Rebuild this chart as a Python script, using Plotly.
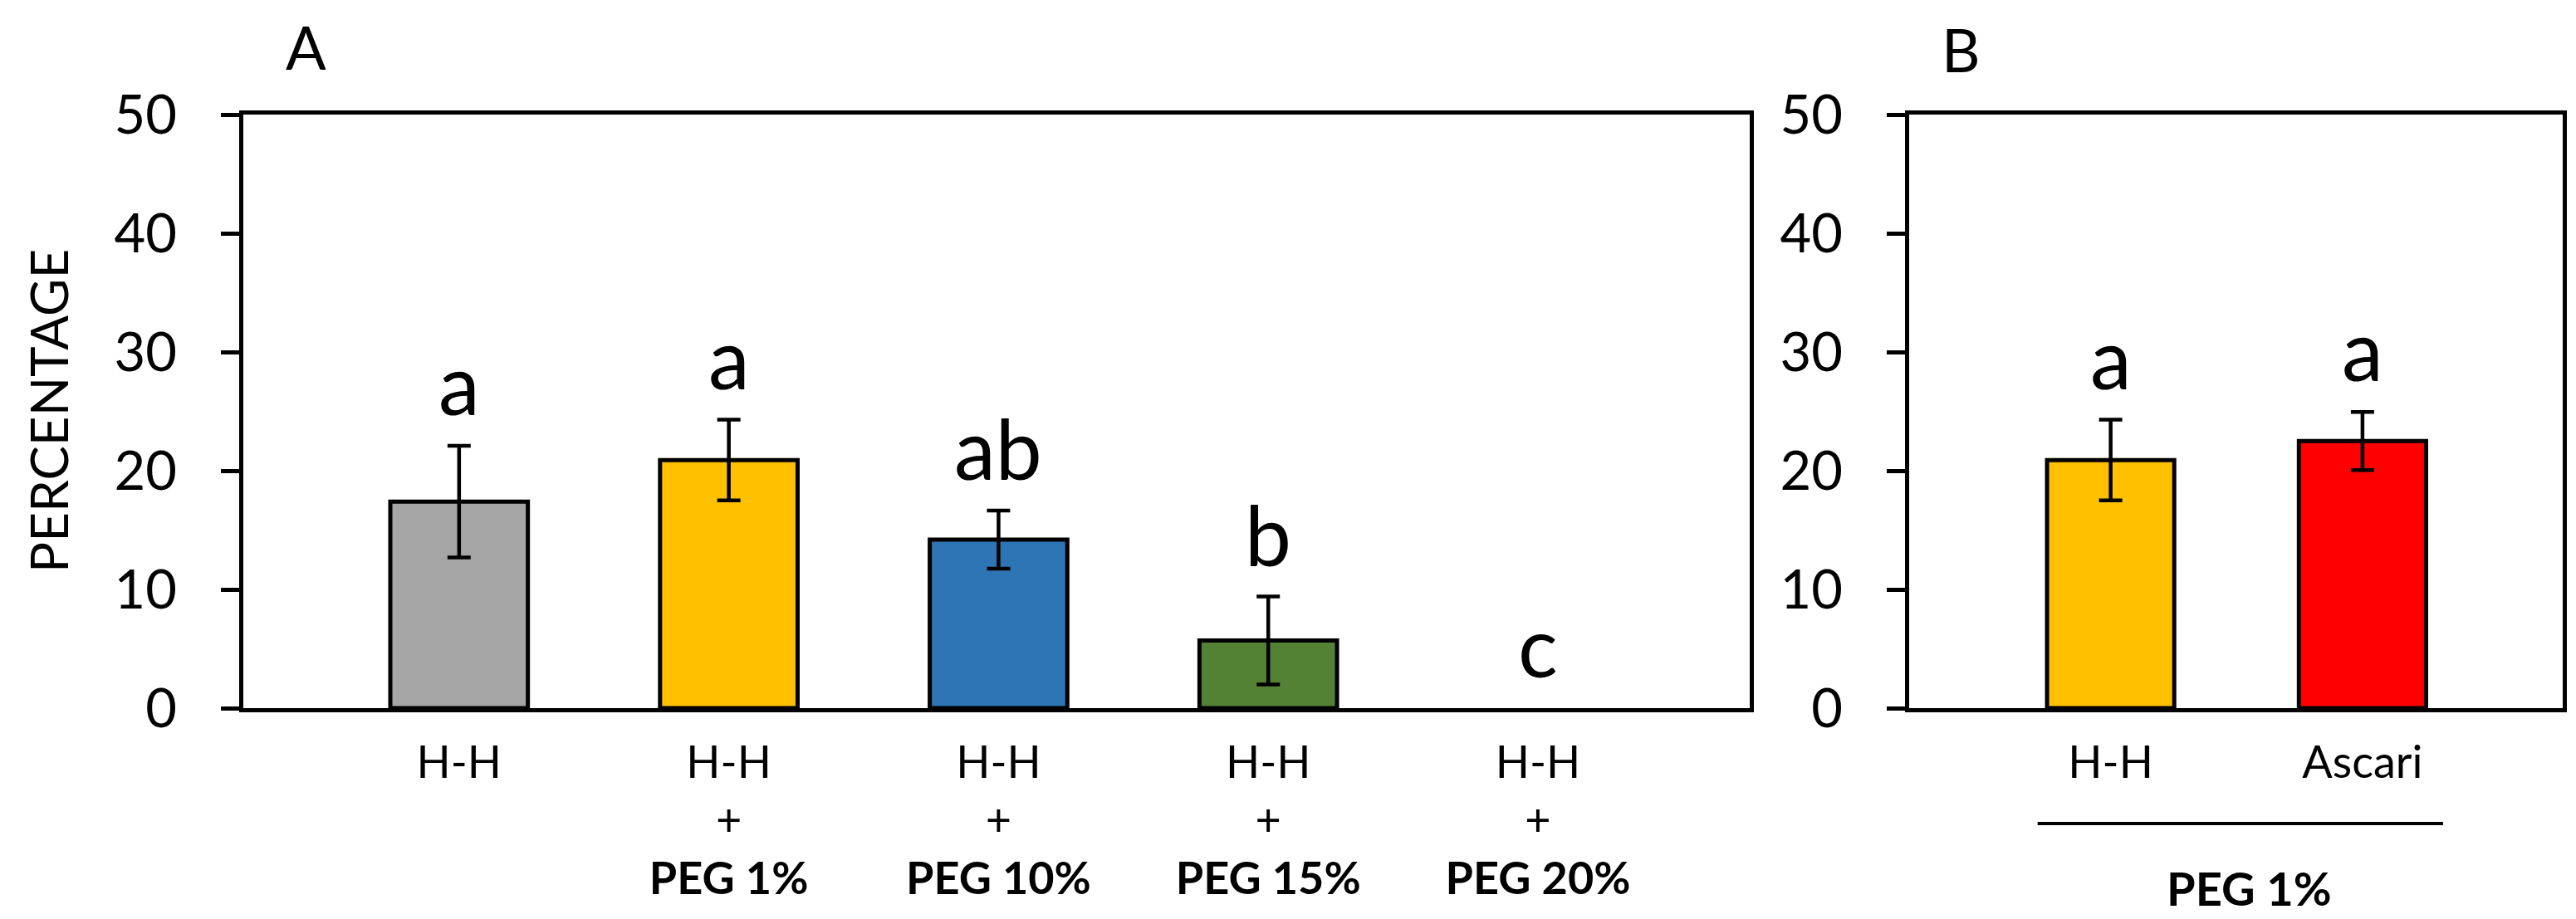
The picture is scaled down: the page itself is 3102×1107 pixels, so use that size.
import plotly.graph_objects as go

# ---- data ----
cats_a = ["H-H", "H-H + PEG 1%", "H-H + PEG 10%", "H-H + PEG 15%", "H-H + PEG 20%"]
ticks_a = ["H-H", "H-H<br>+<br><b>PEG 1%</b>", "H-H<br>+<br><b>PEG 10%</b>",
           "H-H<br>+<br><b>PEG 15%</b>", "H-H<br>+<br><b>PEG 20%</b>"]
mean_a = [17.4, 20.9, 14.2, 5.7, 0.0]
err_a = [4.7, 3.4, 2.45, 3.7, 0.0]
letters_a = ["a", "a", "ab", "b", "c"]
colors_a = ["#A5A5A5", "#FFC000", "#2E75B6", "#548235", "#FFFFFF"]

cats_b = ["H-H", "Ascari"]
mean_b = [20.9, 22.5]
err_b = [3.4, 2.45]
letters_b = ["a", "a"]
colors_b = ["#FFC000", "#FF0000"]

y_ticks = [0, 10, 20, 30, 40, 50]

FONT = "Lato"
W, H = 3102, 1107

fig = go.Figure()

# a zero-height bar is not drawn at all (as in the reference)
plot_mean_a = [m if m > 0 else None for m in mean_a]
plot_err_a = [e if m > 0 else None for m, e in zip(mean_a, err_a)]

fig.add_trace(go.Bar(
    x=cats_a, y=plot_mean_a, width=0.51, xaxis="x", yaxis="y",
    marker=dict(color=colors_a, line=dict(color="black", width=5)),
    error_y=dict(type="data", array=plot_err_a,
                 visible=True, color="black", thickness=4.5, width=14),
    showlegend=False, hoverinfo="skip",
))
fig.add_trace(go.Bar(
    x=cats_b, y=mean_b, width=0.505, xaxis="x2", yaxis="y2",
    marker=dict(color=colors_b, line=dict(color="black", width=5)),
    error_y=dict(type="data", array=err_b, visible=True, color="black",
                 thickness=4.5, width=14),
    showlegend=False, hoverinfo="skip",
))

annotations = []
for c, m, e, t in zip(cats_a, mean_a, err_a, letters_a):
    annotations.append(dict(x=c, y=m + e, xref="x", yref="y", text=t,
                            showarrow=False, yanchor="bottom", yshift=14,
                            font=dict(family=FONT, size=100, color="black")))
for c, m, e, t in zip(cats_b, mean_b, err_b, letters_b):
    annotations.append(dict(x=c, y=m + e, xref="x2", yref="y2", text=t,
                            showarrow=False, yanchor="bottom", yshift=14,
                            font=dict(family=FONT, size=100, color="black")))

# panel letters, axis title, group label
annotations += [
    dict(x=360 / W, y=1 - 48 / H, xref="paper", yref="paper", text="A",
         showarrow=False, xanchor="center", yanchor="middle",
         font=dict(family=FONT, size=72, color="black")),
    dict(x=2353 / W, y=1 - 51 / H, xref="paper", yref="paper", text="B",
         showarrow=False, xanchor="center", yanchor="middle",
         font=dict(family=FONT, size=72, color="black")),
    dict(x=50 / W, y=1 - 487 / H, xref="paper", yref="paper", text="PERCENTAGE",
         showarrow=False, xanchor="center", yanchor="middle", textangle=-90,
         font=dict(family=FONT, size=62, color="black")),
    dict(x=0.55, y=1 - 1061 / H, xref="x2", yref="paper", text="<b>PEG 1%</b>",
         showarrow=False, xanchor="center", yanchor="middle",
         font=dict(family=FONT, size=56, color="black")),
]

shapes = [dict(type="line", xref="x2", yref="paper", x0=-0.29, x1=1.32,
               y0=1 - 984 / H, y1=1 - 984 / H, line=dict(color="black", width=4))]

y_dom = [1 - 845 / H, 1 - 130 / H]
yaxis_common = dict(range=[0, 50], tickvals=y_ticks, ticks="outside", ticklen=22,
                    tickwidth=5, tickcolor="black", showline=True, linewidth=5,
                    linecolor="black", mirror=True, showgrid=False, zeroline=False,
                    tickfont=dict(family=FONT, size=65, color="black"),
                    ticklabelstandoff=40, domain=y_dom, fixedrange=True,
                    automargin=False)
xaxis_common = dict(showline=True, linewidth=5, linecolor="black", mirror=True,
                    showgrid=False, zeroline=False, ticks="",
                    tickfont=dict(family=FONT, size=54, color="black"),
                    ticklabelstandoff=14, fixedrange=True, type="category",
                    automargin=False)

fig.update_layout(
    width=W, height=H,
    margin=dict(l=0, r=0, t=0, b=0, autoexpand=False),
    paper_bgcolor="white", plot_bgcolor="white",
    xaxis=dict(domain=[285 / W, 2099 / W], range=[-0.8, 4.785],
               tickvals=cats_a, ticktext=ticks_a, anchor="y", **xaxis_common),
    yaxis=dict(anchor="x", **yaxis_common),
    xaxis2=dict(domain=[2291 / W, 3078 / W], range=[-0.8, 1.795],
                tickvals=cats_b, ticktext=cats_b, anchor="y2", **xaxis_common),
    yaxis2=dict(anchor="x2", **yaxis_common),
    annotations=annotations,
    shapes=shapes,
    bargap=0.49,
)

fig.write_html("out.html")
